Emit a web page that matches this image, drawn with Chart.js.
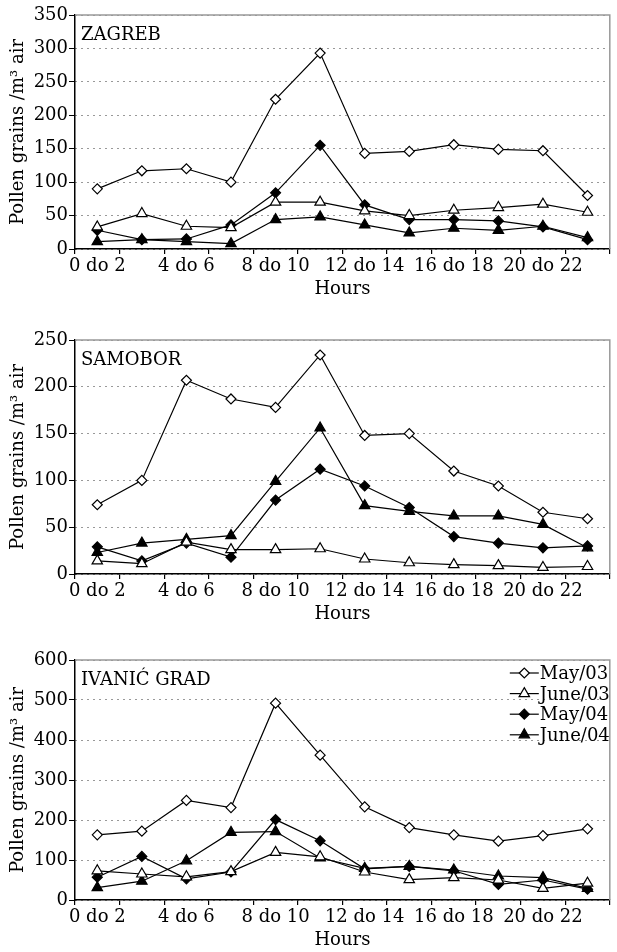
<!DOCTYPE html>
<html>
<head>
<meta charset="utf-8">
<script src="https://cdn.jsdelivr.net/npm/chart.js@4.4.1/dist/chart.umd.min.js"></script>
<style>
  body { margin:0; background:#fff; }
  #wrap { position:relative; width:617px; height:952px; }
  .panel { position:absolute; left:0; }
</style>
</head>
<body>
<div id="wrap">
  <canvas class="panel" id="zagreb" width="617" height="300" style="top:0px"></canvas>
  <canvas class="panel" id="samobor" width="617" height="303" style="top:322px"></canvas>
  <canvas class="panel" id="ivanic" width="617" height="309" style="top:642px"></canvas>
</div>
<script>
// two-hour intervals, only every second one gets a label
var hours = ['0 do 2','2 do 4','4 do 6','6 do 8','8 do 10','10 do 12','12 do 14','14 do 16','16 do 18','18 do 20','20 do 22','22 do 24'];
var seriesNames = ['May/03','June/03','May/04','June/04'];

var zagrebMay03  = [90,117,120,100,224,293,143,146,156,149,147,80];
var zagrebJune03 = [33,53,34,32,70,70,57,50,58,62,67,55];
var zagrebMay04  = [28,14,15,36,84,155,66,44,44,42,33,14];
var zagrebJune04 = [11,14,11,8,44,48,36,24,31,28,34,17];

var samoborMay03  = [74,100,207,187,178,234,148,150,110,94,66,59];
var samoborJune03 = [14,11,34,26,26,27,16,12,10,9,7,8];
var samoborMay04  = [29,14,33,18,79,112,94,71,40,33,28,30];
var samoborJune04 = [23,33,37,41,99,156,73,67,62,62,53,28];

var ivanicMay03  = [163,172,249,231,492,362,233,181,163,147,161,178];
var ivanicJune03 = [73,65,58,71,119,108,70,51,56,50,29,42];
var ivanicMay04  = [57,109,53,70,201,148,78,84,73,39,50,27];
var ivanicJune04 = [31,47,98,169,171,105,79,84,75,60,56,29];

Chart.defaults.font.family = "'DejaVu Serif', serif";
Chart.defaults.font.size = 18;
Chart.defaults.color = '#000';

var styles = [
  {pointStyle:'rectRot', pointRadius:5, fill:'#fff'},
  {pointStyle:'triangle', pointRadius:6, fill:'#fff'},
  {pointStyle:'rectRot', pointRadius:5, fill:'#000'},
  {pointStyle:'triangle', pointRadius:6, fill:'#000'}
];

// grey frame on top/right, station name, optional legend
var panelPlugin = {
  id: 'panel',
  afterDraw: function(chart, args, opts) {
    var a = chart.chartArea, ctx = chart.ctx;
    ctx.save();
    ctx.strokeStyle = '#999';
    ctx.lineWidth = 1.5;
    ctx.beginPath();
    ctx.moveTo(a.left, a.top);
    ctx.lineTo(a.right, a.top);
    ctx.lineTo(a.right, a.bottom);
    ctx.stroke();

    ctx.fillStyle = '#000';
    ctx.font = "18px 'DejaVu Serif', serif";
    ctx.textBaseline = 'alphabetic';
    ctx.textAlign = 'left';
    ctx.fillText(opts.station, a.left + 6, a.top + 25);

    if (opts.legend) {
      var ds = chart.data.datasets;
      for (var i = 0; i < ds.length; i++) {
        var base = a.top + 19 + i * 20.6;
        var mid = base - 6;
        var x0 = a.right - 100;
        ctx.strokeStyle = '#000';
        ctx.lineWidth = 1.2;
        ctx.beginPath();
        ctx.moveTo(x0, mid);
        ctx.lineTo(x0 + 29, mid);
        ctx.stroke();
        ctx.fillStyle = ds[i].pointBackgroundColor;
        Chart.helpers.drawPoint(ctx, {pointStyle: ds[i].pointStyle, radius: ds[i].pointRadius, borderWidth: 1.2}, x0 + 14.5, mid);
        ctx.fillStyle = '#000';
        ctx.fillText(ds[i].label, a.right - 70, base);
      }
    }
    ctx.restore();
  }
};

function makeSets(lists) {
  var out = [];
  for (var i = 0; i < lists.length; i++) {
    out.push({
      label: seriesNames[i],
      data: lists[i],
      borderColor: '#000',
      borderWidth: 1.2,
      pointStyle: styles[i].pointStyle,
      pointRadius: styles[i].pointRadius,
      pointBackgroundColor: styles[i].fill,
      pointBorderColor: '#000',
      pointBorderWidth: 1.2,
      tension: 0
    });
  }
  return out;
}

function drawPanel(id, station, lists, yMax, yStep, withLegend) {
  new Chart(document.getElementById(id), {
    type: 'line',
    data: { labels: hours, datasets: makeSets(lists) },
    options: {
      responsive: false,
      animation: false,
      devicePixelRatio: 1,
      layout: { padding: { top: (id == 'zagreb' ? 15 : 18), right: 1, left: 0, bottom: 0 } },
      plugins: {
        legend: { display: false },
        tooltip: { enabled: false },
        panel: { station: station, legend: withLegend }
      },
      scales: {
        x: {
          type: 'category',
          offset: true,
          grid: { offset: true, drawOnChartArea: false, tickLength: 5, color: '#000', lineWidth: 1.2 },
          border: { color: '#000', width: 1.5 },
          ticks: {
            autoSkip: false, maxRotation: 0, minRotation: 0, padding: 2,
            callback: function(v, i) { return i % 2 == 0 ? this.getLabelForValue(v) : ''; }
          },
          title: { display: true, text: 'Hours', padding: { top: 0, bottom: 0 } },
          afterFit: function(s) { s.height = 51; }
        },
        y: {
          min: 0, max: yMax,
          grid: { color: '#333', lineWidth: 1, tickLength: 6, tickColor: '#000', tickBorderDash: [] },
          border: { color: '#000', width: 1.5, dash: [1, 5] },
          ticks: { stepSize: yStep, padding: 1 },
          title: { display: true, text: 'Pollen grains /m³ air', padding: { top: 8, bottom: 0 } },
          afterFit: function(s) { s.width = 75; }
        }
      }
    },
    plugins: [panelPlugin]
  });
}

drawPanel('zagreb', 'ZAGREB', [zagrebMay03, zagrebJune03, zagrebMay04, zagrebJune04], 350, 50, false);
drawPanel('samobor', 'SAMOBOR', [samoborMay03, samoborJune03, samoborMay04, samoborJune04], 250, 50, false);
drawPanel('ivanic', 'IVANIĆ GRAD', [ivanicMay03, ivanicJune03, ivanicMay04, ivanicJune04], 600, 100, true);
</script>
</body>
</html>
